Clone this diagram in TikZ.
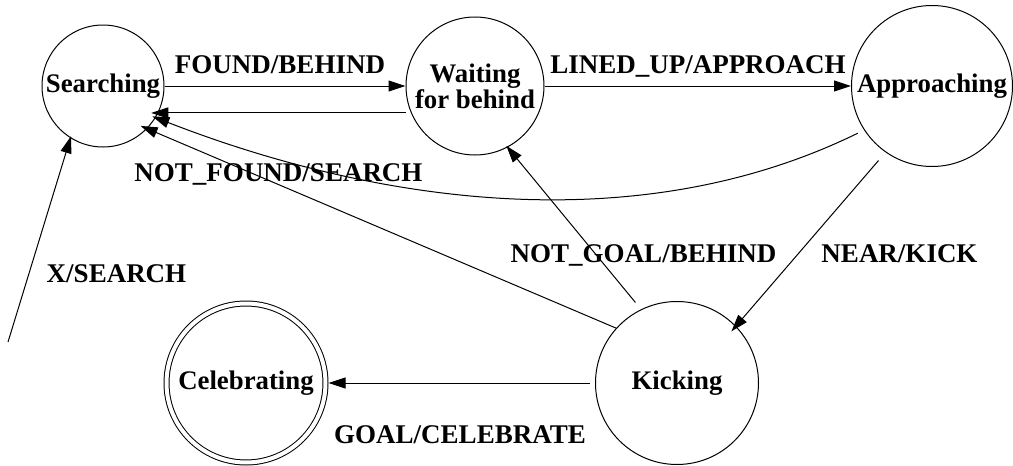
\documentclass[tikz,border=0pt]{standalone}
\usepackage{fontspec}
\setmainfont{Liberation Serif}
\usetikzlibrary{arrows.meta}
\begin{document}
\begin{tikzpicture}[x=0.5pt,y=-0.5pt,
  state/.style={circle,draw,line width=0.5pt,inner sep=0pt,
    font=\fontsize{13.4}{13}\selectfont\bfseries,align=center},
  lbl/.style={font=\fontsize{13.5}{13}\selectfont\bfseries,anchor=base,inner sep=0pt},
  arr/.style={-{Triangle[length=8.5pt,width=5.5pt]},line width=0.5pt}]
\fill[white] (0,0) rectangle (1013,466);
\useasboundingbox (0,0) rectangle (1013,466);
% states
\node[state,minimum size=61pt] (srch) at (103,86) {Searching};
\node[state,minimum size=69pt] (wait) at (475,86) {Waiting\\for behind};
\node[state,minimum size=80.5pt] (app) at (932,86) {Approaching};
\node[state,minimum size=81.5pt] (kick) at (677,383) {Kicking};
\node[state,minimum size=79.5pt,double,double distance=2pt,outer sep=1.5pt] (cele) at (246,383) {Celebrating};
\coordinate (init) at (8,342);
% transitions
\draw[arr] (srch) -- (wait);
\draw[arr,shorten >=-3.5pt] (srch.-26.3 -| wait.west) -- (srch.-26.3);
\draw[arr] (wait) -- (app);
\draw[arr,shorten <=3.5pt,shorten >=-1.8pt] (app.213.3) .. controls (640,240) and (380,205) .. (srch.-31.7);
\draw[arr,shorten <=5.4pt,shorten >=-3.5pt] (app.235.3) -- (kick.44.5);
\draw[arr,shorten <=4.4pt,shorten >=-1pt] (kick.116.3) -- (wait.-62.4);
\draw[arr,shorten >=-3.6pt] (kick.138) -- (srch.-44.1);
\draw[arr,shorten <=2.5pt] (kick) -- (cele);
\draw[arr,shorten >=-1pt] (init) -- (srch.238.6);
% labels
\node[lbl] (l1) at (280,73) {FOUND/BEHIND};
\node[lbl] (l2) at (698,73) {LINED\_UP/APPROACH};
\node[lbl] (l3) at (278.5,181) {NOT\_FOUND/SEARCH};
\node[lbl] (l4) at (643.5,262) {NOT\_GOAL/BEHIND};
\node[lbl] (l5) at (899.5,262) {NEAR/KICK};
\node[lbl] (l6) at (116.5,282) {X/SEARCH};
\node[lbl] (l7) at (460,443) {GOAL/CELEBRATE};
\end{tikzpicture}
\end{document}
